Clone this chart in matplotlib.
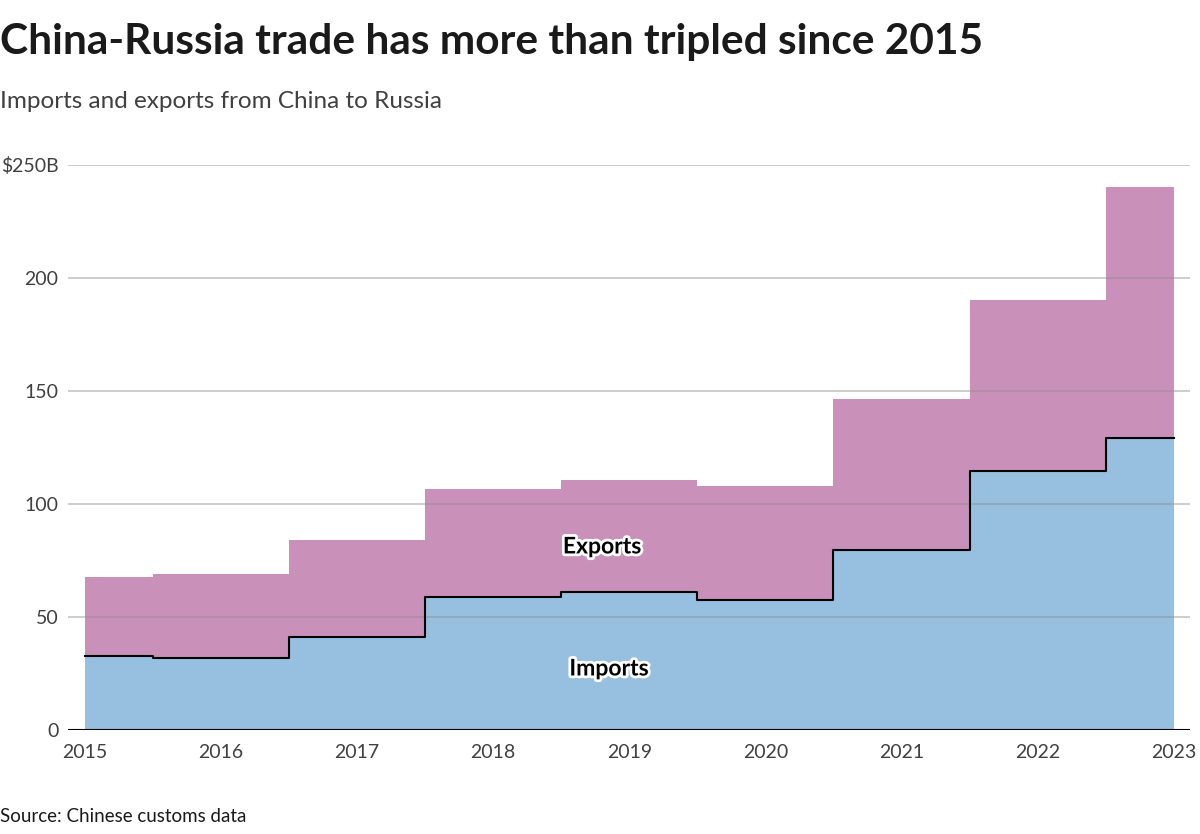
import numpy as np
import matplotlib
matplotlib.use("Agg")
import matplotlib.pyplot as plt
import matplotlib.patheffects as pe

plt.rcParams['font.family'] = ['Lato', 'DejaVu Sans']

# China-Russia trade, $B
years = [2015, 2016, 2017, 2018, 2019, 2020, 2021, 2022, 2023]
imports = [32.7, 31.9, 41.2, 58.8, 61.1, 57.5, 79.6, 114.6, 129.2]
exports = [35.0, 37.1, 42.9, 47.8, 49.5, 50.5, 66.9, 75.7, 111.1]
yticks = [0, 50, 100, 150, 200, 250]
ytick_labels = ['0', '50', '100', '150', '200', '$250B']

blue = '#97bfdf'
pink = '#c991b9'

x = np.array(years)
imp = np.array(imports)
total = imp + np.array(exports)

fig = plt.figure(figsize=(12, 8.34), dpi=100)
ax = fig.add_axes([68 / 1200, 104 / 834, 1122 / 1200, 565 / 834])

ax.fill_between(x, 0, imp, step='mid', color=blue, lw=0, zorder=1)
ax.fill_between(x, imp, total, step='mid', color=pink, lw=0, zorder=1)
ax.step(x, imp, where='mid', color='black', lw=1.5, zorder=3)

ax.set_xlim(2014.875, 2023.12)
ax.set_ylim(0, 250)

for t in yticks[1:]:
    ax.axhline(t, color='#8c8c8c', alpha=0.5, lw=1.2, zorder=2)
ax.axhline(0, color='black', lw=1.5, zorder=4)

ax.set_yticks(yticks)
ax.set_yticklabels(ytick_labels)
ax.set_xticks(years)
ax.set_xticklabels([str(y) for y in years])
ax.tick_params(axis='both', length=0, labelsize=14, colors='#404040')
ax.tick_params(axis='y', pad=7)
ax.tick_params(axis='x', pad=10)
for s in ax.spines.values():
    s.set_visible(False)

halo = [pe.withStroke(linewidth=4, foreground='white')]
ax.text(2018.8, 81, 'Exports', ha='center', va='center', fontsize=16.5,
        fontweight='bold', color='black', path_effects=halo, zorder=5)
ax.text(2018.85, 27, 'Imports', ha='center', va='center', fontsize=16.5,
        fontweight='bold', color='black', path_effects=halo, zorder=5)

fig.text(0.0, 1 - 42 / 834, 'China-Russia trade has more than tripled since 2015',
         fontsize=30.5, fontweight='bold', color='#1a1a1a', va='center', ha='left')
fig.text(0.0, 1 - 102 / 834, 'Imports and exports from China to Russia',
         fontsize=17.5, color='#404040', va='center', ha='left')
fig.text(0.0, 1 - 817 / 834, 'Source: Chinese customs data',
         fontsize=13.5, color='#1a1a1a', va='center', ha='left')

fig.savefig('out.png', dpi=100)
